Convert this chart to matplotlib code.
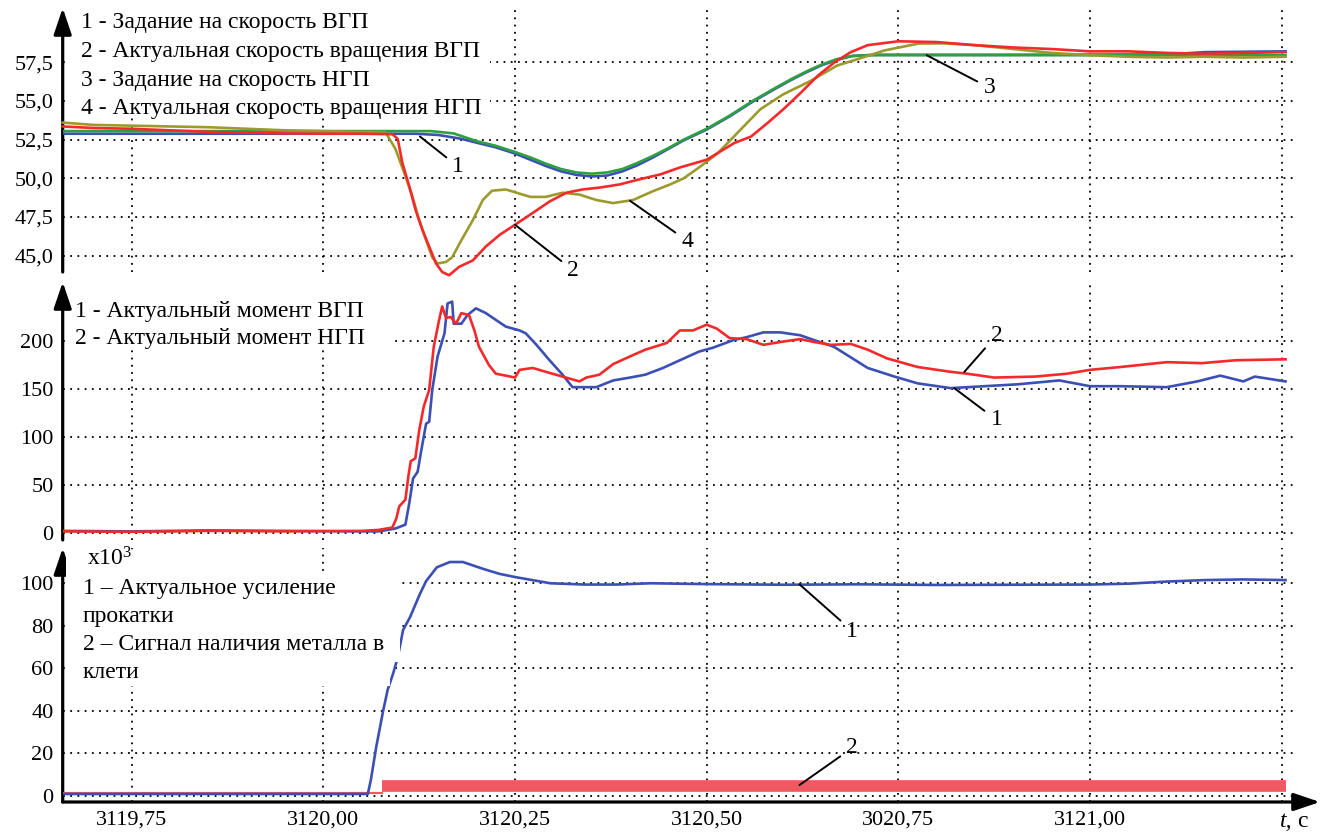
import matplotlib
matplotlib.use("Agg")
import matplotlib.pyplot as plt
from matplotlib.patches import Rectangle

# ---------------- data ----------------
x_ticks = [3119.75, 3120.00, 3120.25, 3120.50, 3120.75, 3121.00]
x_tick_labels = ["3119,75", "3120,00", "3120,25", "3120,50", "3020,75", "3121,00"]
x_grid = [3119.75, 3120.00, 3120.25, 3120.50, 3120.75, 3121.00, 3121.25]

# Panel 1: speeds
p1_ticks = [45.0, 47.5, 50.0, 52.5, 55.0, 57.5]
p1_tick_labels = ["45,0", "47,5", "50,0", "52,5", "55,0", "57,5"]
p1_legend = ["1 - Задание на скорость ВГП",
             "2 - Актуальная скорость вращения ВГП",
             "3 - Задание на скорость НГП",
             "4 - Актуальная скорость вращения НГП"]

set_vgp_t = [3119.66, 3120.12, 3120.15, 3120.18, 3120.20, 3120.225, 3120.25, 3120.27, 3120.29,
             3120.31, 3120.33, 3120.35, 3120.37, 3120.39, 3120.41, 3120.43, 3120.45, 3120.47,
             3120.50, 3120.53, 3120.56, 3120.59, 3120.61, 3120.63, 3120.65, 3120.67, 3120.69,
             3120.72, 3120.90, 3121.10, 3121.15, 3121.255]
set_vgp_v = [52.88, 52.88, 52.80, 52.55, 52.30, 52.00, 51.60, 51.20, 50.80,
             50.45, 50.22, 50.12, 50.18, 50.45, 50.85, 51.35, 51.90, 52.45,
             53.15, 54.00, 54.95, 55.80, 56.35, 56.85, 57.30, 57.65, 57.90,
             57.98, 57.98, 58.00, 58.15, 58.20]

set_ngp_t = [3119.66, 3120.14, 3120.17, 3120.20, 3120.225, 3120.25, 3120.27, 3120.29, 3120.31,
             3120.33, 3120.35, 3120.37, 3120.39, 3120.41, 3120.43, 3120.45, 3120.47, 3120.50,
             3120.53, 3120.56, 3120.59, 3120.61, 3120.63, 3120.65, 3120.67, 3120.69, 3120.71,
             3121.255]
set_ngp_v = [53.05, 53.05, 52.90, 52.40, 52.10, 51.70, 51.35, 50.95, 50.60,
             50.38, 50.30, 50.38, 50.60, 51.00, 51.45, 51.95, 52.50, 53.20,
             54.05, 55.00, 55.85, 56.40, 56.90, 57.35, 57.70, 57.90, 57.95,
             57.95]

act_vgp_t = [3119.66, 3119.70, 3119.75, 3119.80, 3119.85, 3119.90, 3119.95, 3120.00, 3120.05,
             3120.09, 3120.097, 3120.103, 3120.112, 3120.12, 3120.129, 3120.138, 3120.147,
             3120.155, 3120.164, 3120.177, 3120.195, 3120.212, 3120.23, 3120.25, 3120.273,
             3120.295, 3120.317, 3120.338, 3120.36, 3120.386, 3120.412, 3120.44, 3120.465,
             3120.50, 3120.536, 3120.558, 3120.58, 3120.60, 3120.623, 3120.645, 3120.667,
             3120.688, 3120.71, 3120.75, 3120.80, 3120.85, 3120.90, 3120.95, 3121.00, 3121.05,
             3121.10, 3121.15, 3121.20, 3121.255]
act_vgp_v = [53.35, 53.25, 53.20, 53.10, 53.00, 52.95, 52.90, 52.88, 52.88,
             52.85, 52.55, 51.00, 49.50, 48.00, 46.70, 45.60, 44.50,
             43.95, 43.74, 44.28, 44.70, 45.60, 46.35, 47.00, 47.76,
             48.50, 49.07, 49.28, 49.40, 49.60, 49.93, 50.26, 50.70,
             51.20, 52.28, 52.70, 53.60, 54.46, 55.54, 56.63, 57.50,
             58.15, 58.60, 58.85, 58.80, 58.60, 58.45, 58.35, 58.20, 58.20,
             58.10, 58.05, 58.10, 58.15]

act_ngp_t = [3119.66, 3119.70, 3119.75, 3119.80, 3119.85, 3119.90, 3119.95, 3120.00, 3120.05,
             3120.081, 3120.094, 3120.107, 3120.116, 3120.125, 3120.134, 3120.142, 3120.149,
             3120.16, 3120.168, 3120.18, 3120.195, 3120.208, 3120.22, 3120.238, 3120.25,
             3120.27, 3120.29, 3120.312, 3120.334, 3120.356, 3120.378, 3120.404, 3120.43,
             3120.452, 3120.47, 3120.49, 3120.514, 3120.54, 3120.57, 3120.60, 3120.636,
             3120.67, 3120.697, 3120.732, 3120.776, 3120.81, 3120.85, 3120.90, 3120.95,
             3121.00, 3121.05, 3121.10, 3121.15, 3121.20, 3121.255]
act_ngp_v = [53.60, 53.45, 53.40, 53.35, 53.30, 53.20, 53.10, 53.05, 53.00,
             52.98, 51.90, 50.15, 48.85, 47.30, 46.00, 44.90, 44.50,
             44.60, 44.90, 46.00, 47.30, 48.60, 49.20, 49.28, 49.10,
             48.80, 48.80, 49.07, 48.95, 48.60, 48.40, 48.60, 49.17,
             49.60, 50.00, 50.70, 51.60, 52.93, 54.46, 55.43, 56.30,
             57.28, 57.70, 58.26, 58.70, 58.72, 58.60, 58.35, 58.10,
             57.95, 57.85, 57.80, 57.85, 57.80, 57.85]

# Panel 2: torques
p2_ticks = [0, 50, 100, 150, 200]
p2_tick_labels = ["0", "50", "100", "150", "200"]
p2_legend = ["1 - Актуальный момент ВГП", "2 - Актуальный момент НГП"]

torque_vgp_t = [3119.66, 3119.75, 3119.85, 3119.95, 3120.05, 3120.072, 3120.094, 3120.107,
                3120.112, 3120.117, 3120.123, 3120.127, 3120.134, 3120.138, 3120.142, 3120.149,
                3120.158, 3120.162, 3120.168, 3120.17, 3120.18, 3120.188, 3120.199, 3120.212,
                3120.225, 3120.238, 3120.256, 3120.264, 3120.278, 3120.295, 3120.312, 3120.325,
                3120.356, 3120.378, 3120.40, 3120.42, 3120.443, 3120.465, 3120.49, 3120.508,
                3120.535, 3120.552, 3120.574, 3120.596, 3120.622, 3120.64, 3120.666, 3120.71,
                3120.745, 3120.775, 3120.818, 3120.862, 3120.906, 3120.96, 3121.00, 3121.04,
                3121.10, 3121.14, 3121.17, 3121.20, 3121.215, 3121.255]
torque_vgp_v = [2.5, 2, 3, 2.5, 2, 2, 5, 9,
                31, 57, 64, 83, 114, 116, 149, 184,
                208, 239, 241, 218, 218, 227, 234, 229,
                222, 215, 211, 208, 196, 180, 165, 152,
                152, 159, 162, 165, 172, 180, 189, 193,
                201, 204, 209, 209, 206, 201, 194, 172,
                163, 156, 151, 153, 155, 159, 153, 153,
                152, 158, 164, 158, 163, 158]

torque_ngp_t = [3119.66, 3119.75, 3119.85, 3119.95, 3120.05, 3120.072, 3120.09, 3120.095,
                3120.099, 3120.107, 3120.111, 3120.114, 3120.12, 3120.125, 3120.131, 3120.138,
                3120.144, 3120.151, 3120.155, 3120.16, 3120.166, 3120.173, 3120.18, 3120.19,
                3120.197, 3120.203, 3120.216, 3120.225, 3120.238, 3120.25, 3120.256, 3120.273,
                3120.29, 3120.312, 3120.334, 3120.343, 3120.36, 3120.378, 3120.40, 3120.42,
                3120.448, 3120.465, 3120.482, 3120.50, 3120.513, 3120.53, 3120.552, 3120.574,
                3120.596, 3120.622, 3120.64, 3120.662, 3120.688, 3120.71, 3120.735, 3120.775,
                3120.818, 3120.84, 3120.875, 3120.928, 3120.97, 3121.00, 3121.04, 3121.10,
                3121.146, 3121.19, 3121.255]
torque_ngp_v = [2, 1.5, 2.5, 2, 2.5, 3.5, 6, 15,
                28, 35, 60, 75, 78, 107, 132, 149,
                194, 222, 236, 224, 225, 218, 229, 227,
                211, 194, 175, 166, 164, 162, 170, 172,
                168, 163, 158, 162, 165, 176, 184, 191,
                198, 211, 211, 217, 213, 203, 202, 196,
                199, 202, 199, 196, 197, 191, 182, 173,
                168, 166, 162, 163, 166, 170, 173, 178,
                177, 180, 181]

# Panel 3: rolling force (x10^3) and metal-in-stand signal
p3_ticks = [0, 20, 40, 60, 80, 100]
p3_tick_labels = ["0", "20", "40", "60", "80", "100"]
p3_legend = ["1 – Актуальное усиление", "прокатки",
             "2 – Сигнал наличия металла в", "клети"]

force_t = [3119.66, 3120.058, 3120.062, 3120.069, 3120.078, 3120.084, 3120.091, 3120.097,
           3120.104, 3120.113, 3120.126, 3120.134, 3120.148, 3120.165, 3120.182, 3120.209,
           3120.23, 3120.252, 3120.296, 3120.34, 3120.383, 3120.427, 3120.50, 3120.60,
           3120.70, 3120.80, 3120.90, 3121.00, 3121.05, 3121.10, 3121.15, 3121.20, 3121.255]
force_v = [0.8, 0.8, 7.5, 23, 40, 50, 57.5, 65,
           78, 84, 95, 101, 107.5, 110, 110, 106.7,
           104.4, 102.8, 100, 99.4, 99.4, 100, 99.6, 99.3,
           99.5, 99.2, 99.3, 99.4, 99.8, 100.8, 101.5, 101.8, 101.5]

signal_off_t = [3119.66, 3120.077]
signal_off_v = [1.3, 1.3]
signal_on_t = [3120.077, 3121.255]
signal_on_v = [4.75, 4.75]

# ---------------- style / layout ----------------
plt.rcParams['font.family'] = ['Liberation Serif', 'DejaVu Serif']
plt.rcParams['mathtext.fontset'] = 'custom'
plt.rcParams['mathtext.rm'] = 'Liberation Serif'
plt.rcParams['mathtext.it'] = 'Liberation Serif:italic'

W, H = 1330, 832
FS = 16          # tick labels / numbers
FS_LEG = 17      # legend texts
BLUE = '#3b4fb4'
GREEN = '#2ea043'
RED = '#f42a2a'
OLIVE = '#9c9a2c'
BAND = '#f0595f'
LW = 1.9

AX_L, AX_R = 62.7, 1320.0
T_LEFT, T_RIGHT = 3119.660, 3121.300
GRID_END = 3121.27

fig = plt.figure(figsize=(W / 100, H / 100), dpi=100)


def make_ax(top, bottom, ylim):
    ax = fig.add_axes([AX_L / W, 1 - bottom / H, (AX_R - AX_L) / W, (bottom - top) / H])
    ax.set_xlim(T_LEFT, T_RIGHT)
    ax.set_ylim(*ylim)
    for s in ax.spines.values():
        s.set_visible(False)
    ax.set_facecolor('none')
    ax.tick_params(axis='both', length=0, labelsize=FS, pad=6.5)
    ax.annotate('', xy=(0, 1), xytext=(0, 0), xycoords='axes fraction',
                arrowprops=dict(arrowstyle='-|>,head_length=0.8,head_width=0.27',
                                color='black', lw=2.3, shrinkA=0, shrinkB=0,
                                mutation_scale=20), annotation_clip=False)
    ax._px = (top, bottom)
    return ax


def px_axes(ax, x, y):
    top, bottom = ax._px
    return (x - AX_L) / (AX_R - AX_L), (bottom - y) / (bottom - top)


def white_box(ax, x0, y0, x1, y1, z):
    fx0, fy1 = px_axes(ax, x0, y1)
    fx1, fy0 = px_axes(ax, x1, y0)
    ax.add_patch(Rectangle((fx0, fy1), fx1 - fx0, fy0 - fy1, transform=ax.transAxes,
                           facecolor='white', edgecolor='none', zorder=z))


def grid(ax, yticks):
    y0, y1 = ax.get_ylim()
    ax.hlines(yticks, T_LEFT, GRID_END, colors='black', linestyles=(0, (1, 3)), lw=1.3, zorder=1)
    ax.vlines(x_grid, y0, y1, colors='black', linestyles=(0, (1, 3)), lw=1.3, zorder=1)


def label(ax, text, xy, xytext):
    ax.annotate(text, xy=xy, xytext=xytext, fontsize=FS_LEG, ha='center', va='center',
                arrowprops=dict(arrowstyle='-', color='black', lw=1.4, shrinkA=3, shrinkB=0),
                zorder=6, annotation_clip=False)


def legend_lines(ax, lines, x, baselines):
    for txt, yb in zip(lines, baselines):
        fx, fy = px_axes(ax, x, yb)
        ax.text(fx, fy, txt, transform=ax.transAxes, fontsize=FS_LEG, ha='left',
                va='baseline', zorder=7)


# ---- Panel 1 ----
ax1 = make_ax(8, 272, (43.95, 61.0))
grid(ax1, p1_ticks)
ax1.set_yticks(p1_ticks, p1_tick_labels)
ax1.set_xticks([])
white_box(ax1, 66, 6, 490, 114, 2)
ax1.plot(set_vgp_t, set_vgp_v, color=BLUE, lw=LW, zorder=3)
ax1.plot(set_ngp_t, set_ngp_v, color=GREEN, lw=LW, zorder=3.1)
ax1.plot(act_ngp_t, act_ngp_v, color=OLIVE, lw=LW, zorder=3.2, clip_on=False)
ax1.plot(act_vgp_t, act_vgp_v, color=RED, lw=LW, zorder=3.3, clip_on=False)
legend_lines(ax1, p1_legend, 80.7, [28.3, 57.2, 85.8, 114.3])
label(ax1, '1', xy=(3120.126, 52.70), xytext=(3120.176, 50.74))
label(ax1, '2', xy=(3120.250, 47.00), xytext=(3120.326, 44.05))
label(ax1, '4', xy=(3120.400, 48.55), xytext=(3120.475, 45.95))
label(ax1, '3', xy=(3120.787, 57.95), xytext=(3120.869, 55.84))

# ---- Panel 2 ----
ax2 = make_ax(282, 540, (-6.97, 261.4))
grid(ax2, p2_ticks)
ax2.set_yticks(p2_ticks, p2_tick_labels)
ax2.set_xticks([])
white_box(ax2, 66, 284, 392, 350, 2)
ax2.plot(torque_vgp_t, torque_vgp_v, color=BLUE, lw=LW, zorder=3)
ax2.plot(torque_ngp_t, torque_ngp_v, color=RED, lw=LW, zorder=3.1)
legend_lines(ax2, p2_legend, 75, [316.7, 344.3])
label(ax2, '2', xy=(3120.836, 167.8), xytext=(3120.878, 206))
label(ax2, '1', xy=(3120.823, 151.0), xytext=(3120.878, 118))

# ---- Panel 3 ----
ax3 = make_ax(548, 802, (-2.97, 116.6))
ax3.annotate('', xy=(1, 0), xytext=(0, 0), xycoords='axes fraction',
             arrowprops=dict(arrowstyle='-|>,head_length=0.8,head_width=0.27',
                             color='black', lw=2.3, shrinkA=0, shrinkB=0,
                             mutation_scale=20), annotation_clip=False)
grid(ax3, p3_ticks)
ax3.set_yticks(p3_ticks, p3_tick_labels)
ax3.set_xticks(x_ticks, x_tick_labels)
ax3.tick_params(axis='x', pad=6)
white_box(ax3, 66, 550, 145, 575, 4)
white_box(ax3, 66, 575, 400, 662, 4)
white_box(ax3, 66, 662, 390, 686, 4)
ax3.plot(signal_off_t, signal_off_v, color=BAND, lw=1.6, zorder=3)
ax3.plot(signal_on_t, signal_on_v, color=BAND, lw=8.4, solid_capstyle='butt', zorder=3)
ax3.plot(force_t, force_v, color=BLUE, lw=LW, zorder=3.2)
fx, fy = px_axes(ax3, 87.3, 566)
ax3.text(fx, fy, r'x10$^{3}$', transform=ax3.transAxes, fontsize=FS_LEG, ha='left',
         va='baseline', zorder=7)
legend_lines(ax3, p3_legend, 82.7, [594, 621.7, 650, 677.7])
label(ax3, '1', xy=(3120.621, 99.5), xytext=(3120.690, 77.5))
label(ax3, '2', xy=(3120.621, 5.0), xytext=(3120.690, 22.5))

# axis unit label  "t, c"
fx, fy = px_axes(ax3, 1292, 827)
ax3.text(fx, fy, 't,', transform=ax3.transAxes, fontsize=FS_LEG, ha='right', va='baseline',
         style='italic')
fx, fy = px_axes(ax3, 1297, 827)
ax3.text(fx, fy, 'c', transform=ax3.transAxes, fontsize=FS_LEG, ha='left', va='baseline')

fig.savefig('out.png', dpi=100)
